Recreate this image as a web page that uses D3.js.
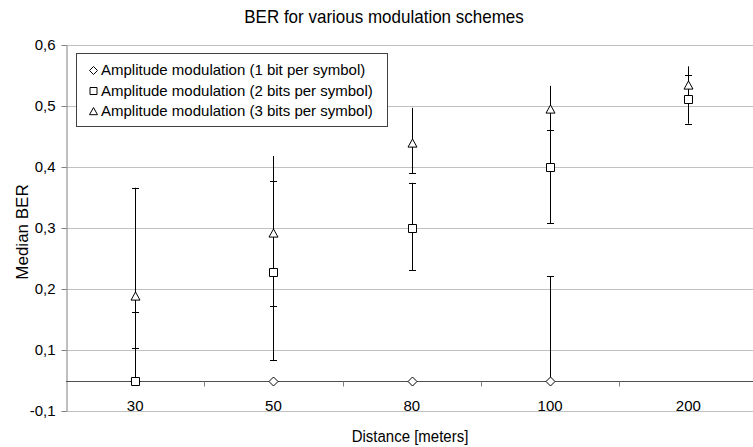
<!DOCTYPE html>
<html>
<head>
<meta charset="utf-8">
<script src="https://cdn.jsdelivr.net/npm/d3@7"></script>
<style>
  html, body { margin: 0; padding: 0; background: #fff; }
  svg { display: block; font-family: "Liberation Sans", Arial, sans-serif; }
</style>
</head>
<body>
<svg id="chart" width="753" height="447"></svg>
<script>
// ---- data ----
const categories = ["30", "50", "80", "100", "200"];
const yTickValues = [0.6, 0.5, 0.4, 0.3, 0.2, 0.1, -0.1];
const yTickLabels = ["0,6", "0,5", "0,4", "0,3", "0,2", "0,1", "-0,1"];
const seriesNames = [
  "Amplitude modulation (1 bit per symbol)",
  "Amplitude modulation (2 bits per symbol)",
  "Amplitude modulation (3 bits per symbol)"
];
const ber1bit  = [0, 0, 0, 0, null];
const ber1High = [0.366, 0, 0, 0.221, null];
const ber1Low  = [0, 0, 0, 0, null];
const ber2bit  = [0, 0.228, 0.300, 0.400, 0.511];
const ber2High = [0.162, 0.377, 0.374, 0.490, 0.551];
const ber2Low  = [0, 0.067, 0.231, 0.308, 0.471];
const ber3bit  = [0.189, 0.292, 0.439, 0.495, 0.534];
const ber3High = [0.273, 0.418, 0.497, 0.533, 0.565];
const ber3Low  = [0.103, 0.172, 0.390, 0.461, 0.514];

const series = [
  { name: seriesNames[0], values: ber1bit, high: ber1High, low: ber1Low, shape: "diamond", capTop: true },
  { name: seriesNames[1], values: ber2bit, high: ber2High, low: ber2Low, shape: "square", capTop: true },
  { name: seriesNames[2], values: ber3bit, high: ber3High, low: ber3Low, shape: "triangle", capTop: false }
];

// ---- layout ----
const svg = d3.select("#chart");
const W = 753;
const left = 66;
const x = d3.scaleBand().domain(categories).range([left, 757.5]).padding(0);
const y = d3.scaleLinear().domain([-0.1, 0.1, 0.6]).range([411, 350, 45]);

function shapePath(shape, r) {
  if (shape === "diamond") return `M0,${-r}L${r},0L0,${r}L${-r},0Z`;
  if (shape === "square") return `M${-r},${-r}H${r}V${r}H${-r}Z`;
  return `M0,${-r}L${r},${r * 0.8}L${-r},${r * 0.8}Z`;
}

// gridlines
svg.append("g").selectAll("line").data(yTickValues).join("line")
  .attr("x1", left).attr("x2", W)
  .attr("y1", d => Math.round(y(d)) + 0.5).attr("y2", d => Math.round(y(d)) + 0.5)
  .attr("stroke", "#c0c0c0").attr("stroke-width", 1);

// y axis
const yAxis = svg.append("g").attr("transform", `translate(${left + 0.5},0)`)
  .call(d3.axisLeft(y).tickValues(yTickValues).tickFormat((d, i) => yTickLabels[i])
    .tickSize(5).tickSizeOuter(0).tickPadding(6));
yAxis.select(".domain").attr("stroke", "#808080");
yAxis.selectAll(".tick line").attr("stroke", "#808080");
yAxis.selectAll(".tick text").attr("font-size", 15).attr("fill", "#000")
  .attr("font-family", "Liberation Sans, Arial, sans-serif");

// x axis at y = 0
const y0 = Math.round(y(0)) + 0.5;
svg.append("line").attr("x1", left).attr("x2", W).attr("y1", y0).attr("y2", y0)
  .attr("stroke", "#505050");
svg.append("g").selectAll("line").data(categories.slice(1)).join("line")
  .attr("x1", d => Math.round(x(d)) + 0.5).attr("x2", d => Math.round(x(d)) + 0.5)
  .attr("y1", y0).attr("y2", y0 + 5).attr("stroke", "#808080");
const xAxis = svg.append("g").attr("transform", `translate(0,${y0})`)
  .call(d3.axisBottom(x).tickSize(0).tickPadding(19));
xAxis.select(".domain").remove();
xAxis.selectAll(".tick text").attr("font-size", 15).attr("fill", "#000")
  .attr("font-family", "Liberation Sans, Arial, sans-serif");

// error bars
const cx = c => x(c) + x.bandwidth() / 2;
const capW = 3.5;
series.forEach(s => {
  const g = svg.append("g");
  categories.forEach((c, i) => {
    const v = s.values[i];
    if (v === null) return;
    const hi = s.high[i], lo = s.low[i];
    const px = Math.round(cx(c)) + 0.5;
    if (hi > lo) {
      g.append("line").attr("x1", px).attr("x2", px)
        .attr("y1", y(hi)).attr("y2", y(lo)).attr("stroke", "#000");
    }
    if (hi > v && s.capTop) {
      g.append("line").attr("x1", px - capW).attr("x2", px + capW)
        .attr("y1", Math.round(y(hi)) + 0.5).attr("y2", Math.round(y(hi)) + 0.5).attr("stroke", "#000");
    }
    if (lo < v) {
      g.append("line").attr("x1", px - capW).attr("x2", px + capW)
        .attr("y1", Math.round(y(lo)) + 0.5).attr("y2", Math.round(y(lo)) + 0.5).attr("stroke", "#000");
    }
  });
});

// markers
series.forEach(s => {
  svg.append("g").selectAll("path")
    .data(categories.map((c, i) => ({ c, v: s.values[i] })).filter(d => d.v !== null))
    .join("path")
    .attr("transform", d => `translate(${Math.round(cx(d.c)) + 0.5},${Math.round(y(d.v)) + 0.5})`)
    .attr("d", shapePath(s.shape, s.shape === "square" ? 4 : 4.5))
    .attr("fill", "#fff").attr("stroke", "#000").attr("stroke-width", 1);
});

// legend
const lg = svg.append("g");
lg.append("rect").attr("x", 76.5).attr("y", 53.5).attr("width", 311).attr("height", 73)
  .attr("fill", "#fff").attr("stroke", "#404040");
const rowY = [70, 90.5, 111];
series.forEach((s, i) => {
  lg.append("path").attr("transform", `translate(93.5,${rowY[i] + 0.5})`)
    .attr("d", shapePath(s.shape, s.shape === "square" ? 3.5 : 4))
    .attr("fill", "#fff").attr("stroke", "#000");
  lg.append("text").attr("x", 101).attr("y", rowY[i]).attr("dy", "0.35em")
    .attr("font-size", 15).attr("fill", "#000").text(s.name);
});

// titles
svg.append("text").attr("transform", "translate(384,23) scale(1,1.1)").attr("text-anchor", "middle")
  .attr("font-size", 17).attr("fill", "#000").text("BER for various modulation schemes");
svg.append("text").attr("transform", "translate(410,442) scale(1,1.1)").attr("text-anchor", "middle")
  .attr("font-size", 15).attr("fill", "#000").text("Distance [meters]");
svg.append("text").attr("transform", "translate(28,232) rotate(-90)").attr("text-anchor", "middle")
  .attr("font-size", 17).attr("fill", "#000").text("Median BER");
</script>
</body>
</html>
